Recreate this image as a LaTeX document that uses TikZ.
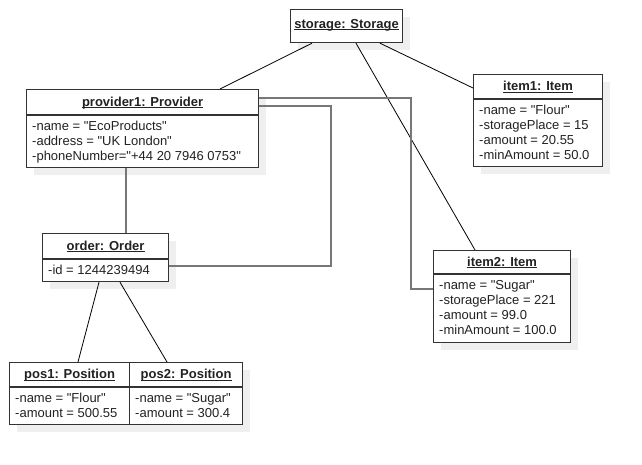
\documentclass[tikz,border=0pt]{standalone}
\usepackage{fontspec}
\setmainfont{Liberation Sans}[Ligatures=TeXOff]
\usetikzlibrary{calc,shadows}
\definecolor{boxc}{HTML}{333333}
\definecolor{txtc}{HTML}{222222}
\definecolor{shadowc}{HTML}{EFEFEF}
\definecolor{linkc}{HTML}{777777}
\tikzset{
  objbox/.style={draw=boxc, line width=1.2pt, fill=white, inner sep=0pt, anchor=north west,
    drop shadow={shadow xshift=7pt, shadow yshift=-7pt, fill=shadowc, opacity=1}},
  sepline/.style={draw=boxc, line width=1.2pt},
  titletext/.style={inner sep=0pt, anchor=base, text=txtc, font=\fontsize{13}{15}\selectfont\bfseries},
  attrtext/.style={inner sep=0pt, anchor=base west, text=txtc, font=\fontsize{13}{15}\selectfont},
  uline/.style={draw=txtc, line width=0.9pt},
  assoc/.style={draw=black, line width=0.8pt},
  link/.style={draw=linkc, line width=2pt},
}
\newcommand{\umlobject}[8]{%
  \node[objbox, minimum width=#4pt, minimum height=#5pt] (#1) at (#2,#3) {};
  \draw[sepline] ($(#1.north west)+(0,#6)$) -- ($(#1.north east)+(0,#6)$);
  \node[titletext] (#1-t) at ($(#1.north)+(0,#6/2+4)$) {#7};
  \draw[uline] ($(#1-t.base west)+(0,1.8)$) -- ($(#1-t.base east)+(0,1.8)$);
  \foreach \a [count=\i] in {#8} {
    \node[attrtext] (#1-a\i) at ($(#1.north west)+(6,#6+15*\i)$) {\a};
  }%
}
\begin{document}
\begin{tikzpicture}[x=1pt, y=-1pt]
\useasboundingbox (0,0) rectangle (642,464);

% storage
\node[objbox, minimum width=112pt, minimum height=33pt] (storage) at (290,9) {};
\node[titletext] (storage-t) at ($(storage.north)+(0,19)$) {storage: Storage};
\draw[uline] ($(storage-t.base west)+(0,1.8)$) -- ($(storage-t.base east)+(0,1.8)$);

\umlobject{prov}{26}{89}{232}{78}{26}{provider1: Provider}
  {-name = "EcoProducts", -address = "UK London", -phoneNumber="+44 20 7946 0753"}
\umlobject{item1}{473}{74}{129}{92}{25}{item1: Item}
  {-name = "Flour", -storagePlace = 15, -amount = 20.55, -minAmount = 50.0}
\umlobject{item2}{433}{250}{137}{92}{24}{item2: Item}
  {-name = "Sugar", -storagePlace = 221, -amount = 99.0, -minAmount = 100.0}
\umlobject{order}{42}{233}{126}{48}{26}{order: Order}
  {-id = 1244239494}
\umlobject{pos1}{9}{362}{120}{62}{25}{pos1: Position}
  {-name = "Flour", -amount = 500.55}
\umlobject{pos2}{129}{362}{113}{62}{25}{pos2: Position}
  {-name = "Sugar", -amount = 300.4}

% connectors
\draw[assoc] ($(storage.south west)+(22,0)$) -- ($(prov.north west)+(194,0)$);
\draw[assoc] ($(storage.south west)+(90,0)$) -- ($(item1.north west)+(0,14)$);
\draw[assoc] ($(storage.south west)+(66,0)$) -- ($(item2.north west)+(42,0)$);
\draw[link] ($(prov.south west)+(100,0)$) -- ($(order.north west)+(84,0)$);
\draw[link] ($(prov.north east)+(0,17)$) -- ($(prov.north east)+(72,17)$)
  |- ($(order.north east)+(0,33)$);
\draw[link] ($(prov.north east)+(0,8.5)$) -- ($(prov.north east)+(152,8.5)$)
  |- ($(item2.north west)+(0,39)$);
\draw[assoc] ($(order.south west)+(57,0)$) -- ($(pos1.north west)+(69,0)$);
\draw[assoc] ($(order.south west)+(78,0)$) -- ($(pos2.north west)+(38,0)$);
\end{tikzpicture}
\end{document}
